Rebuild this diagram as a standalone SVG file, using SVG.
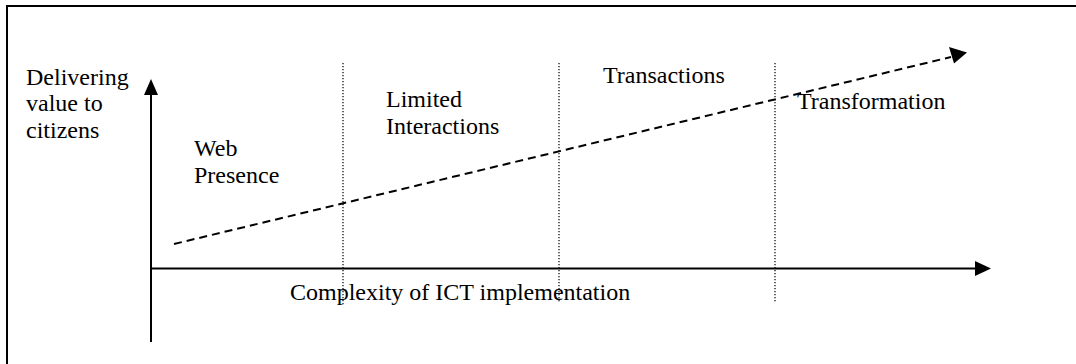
<svg xmlns="http://www.w3.org/2000/svg" width="1076" height="364" viewBox="0 0 1076 364">
<style>
text{font-family:"Liberation Serif","Times New Roman",serif;font-size:24px;fill:#000}
.axis{stroke:#000;stroke-width:2;fill:none}
.dot{stroke:#000;stroke-width:1.2;stroke-dasharray:1.2 1.8;fill:none}
.dash{stroke:#000;stroke-width:2;stroke-dasharray:8 5;fill:none}
</style>
<rect x="7" y="6" width="1200" height="500" fill="#fff" stroke="#000" stroke-width="2"/>
<g id="dividers">
<line class="dot" x1="343" y1="63" x2="343" y2="306"/>
<line class="dot" x1="559" y1="63" x2="559" y2="303"/>
<line class="dot" x1="775" y1="63" x2="775" y2="303"/>
</g>
<g id="connectors">
<line class="axis" x1="151" y1="342" x2="151" y2="95"/>
<path d="M144,95 L151,79 L158,95 Z" fill="#000"/>
<line class="axis" x1="151" y1="268.5" x2="975" y2="268.5"/>
<path d="M975,261 L991,268.5 L975,276 Z" fill="#000"/>
<line class="dash" x1="174" y1="244" x2="951" y2="57"/>
<path d="M949,47 L967,52.5 L954,63.5 Z" fill="#000"/>
</g>
<g id="y-label"><text x="26" y="85">Delivering</text><text x="26" y="111">value to</text><text x="26" y="138">citizens</text></g>
<g id="web-presence"><text x="194" y="156">Web</text><text x="194" y="183">Presence</text></g>
<g id="limited-interactions"><text x="386" y="107">Limited</text><text x="386" y="134">Interactions</text></g>
<g id="transactions"><text x="603" y="83">Transactions</text></g>
<g id="transformation"><text x="797" y="109">Transformation</text></g>
<g id="x-label"><text x="290" y="300">Complexity of ICT implementation</text></g>
</svg>
